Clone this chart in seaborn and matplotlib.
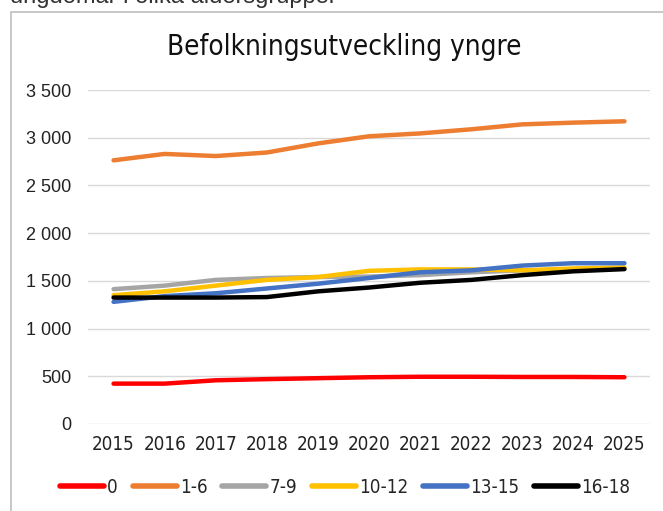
import pandas as pd
import matplotlib
matplotlib.use("Agg")
import matplotlib.pyplot as plt
import seaborn as sns
from matplotlib import font_manager
from matplotlib.patches import Rectangle

# === data ===
years = [2015, 2016, 2017, 2018, 2019, 2020, 2021, 2022, 2023, 2024, 2025]
groups = ["0", "1-6", "7-9", "10-12", "13-15", "16-18"]
age_0 = [423, 423, 458, 470, 480, 490, 495, 495, 493, 493, 490]
age_1_6 = [2763, 2830, 2808, 2845, 2940, 3015, 3045, 3088, 3140, 3158, 3172]
age_7_9 = [1413, 1450, 1510, 1530, 1540, 1545, 1560, 1590, 1610, 1615, 1630]
age_10_12 = [1350, 1390, 1450, 1510, 1540, 1605, 1620, 1620, 1610, 1630, 1640]
age_13_15 = [1280, 1340, 1370, 1420, 1470, 1530, 1590, 1610, 1660, 1685, 1685]
age_16_18 = [1325, 1325, 1325, 1330, 1390, 1430, 1480, 1510, 1560, 1600, 1623]
colors = ["#FF0000", "#ED7D31", "#A5A5A5", "#FFC000", "#4472C4", "#000000"]

series = [age_0, age_1_6, age_7_9, age_10_12, age_13_15, age_16_18]
df = pd.concat(
    [pd.DataFrame({"year": years, "value": v, "group": g}) for g, v in zip(groups, series)],
    ignore_index=True,
)

# === fonts: look for a narrow face, the original uses one ===
narrow = None
for f in font_manager.fontManager.ttflist:
    if f.style != "normal" or f.weight not in (400, "normal", "regular"):
        continue
    if "Narrow" in f.name or "Condensed" in f.name or f.stretch in ("condensed", "semi-condensed"):
        narrow = f
        break

sns.set_style("white")
plt.rcParams["font.family"] = ["Liberation Sans", "DejaVu Sans"]

if narrow is not None:
    nfont = dict(fname=narrow.fname)
    sz_x, sz_title, sz_leg = 13.5, 20, 13.5
else:
    nfont = dict(family=["Liberation Sans", "DejaVu Sans"])
    sz_x, sz_title, sz_leg = 11.5, 16, 11.5

def fp(size):
    return font_manager.FontProperties(size=size, **nfont)

fig = plt.figure(figsize=(6.63, 5.11), dpi=100)
ax = fig.add_axes([88 / 663, 1 - 424 / 511, (650 - 88) / 663, (424 - 90) / 511])

# chart frame + cut-off caption above it
fig.patches.append(Rectangle((11 / 663, -0.1), 1.2, 1 - 12 / 511 + 0.1,
                             transform=fig.transFigure, fill=False,
                             edgecolor="#BFBFBF", linewidth=1.2))
fig.text(10 / 663, 1 - 3 / 511, "ungdomar i olika åldersgrupper", fontsize=17,
         va="baseline", ha="left", color="#333333")

sns.lineplot(data=df, x="year", y="value", hue="group", hue_order=groups,
             palette=colors, linewidth=3.2, ax=ax, legend=True)
for ln in ax.get_lines():
    ln.set_solid_capstyle("round")

ax.set_xlim(2014.5, 2025.5)
ax.set_ylim(0, 3500)
ax.set_yticks(range(0, 3501, 500))
ax.set_yticklabels([f"{v:,}".replace(",", " ") for v in range(0, 3501, 500)], fontsize=13)
ax.set_xticks(years)
ax.set_xticklabels([str(y) for y in years], fontproperties=fp(sz_x))
ax.tick_params(axis="x", length=0, pad=8, colors="#222222")
ax.tick_params(axis="y", length=0, pad=12, colors="#222222")
ax.yaxis.grid(True, color="#D9D9D9", linewidth=1)
ax.set_axisbelow(True)
for s in ax.spines.values():
    s.set_visible(False)
ax.set_xlabel("")
ax.set_ylabel("")

fig.text(344 / 663, 1 - 47 / 511, "Befolkningsutveckling yngre", fontproperties=fp(sz_title),
         ha="center", va="center", color="#111111")

leg = ax.legend(loc="center", bbox_to_anchor=(345 / 663, 1 - 487 / 511),
                bbox_transform=fig.transFigure, ncol=6, frameon=False, prop=fp(sz_leg),
                handlelength=2.35, handletextpad=0.15, columnspacing=0.8, borderpad=0)
for h in leg.get_lines():
    h.set_linewidth(4)
    h.set_solid_capstyle("round")

fig.savefig("out.png", dpi=100)
